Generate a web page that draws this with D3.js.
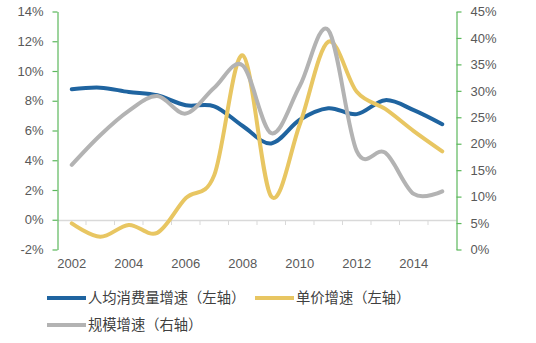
<!DOCTYPE html>
<html><head><meta charset="utf-8">
<script src="https://cdn.jsdelivr.net/npm/d3@7"></script>
<style>
html,body{margin:0;padding:0;background:#fff;}
svg{display:block;}
</style></head>
<body>
<svg id="c" width="536" height="343"></svg>
<script>
const years = [2002,2003,2004,2005,2006,2007,2008,2009,2010,2011,2012,2013,2014,2015];
const volumeGrowth = [8.77,8.88,8.59,8.37,7.7,7.63,6.3,5.13,6.72,7.5,7.1,8.04,7.37,6.42];
const priceGrowth = [-0.25,-1.15,-0.35,-0.88,1.45,3.0,11.05,1.56,6.4,11.96,8.6,7.45,5.96,4.6];
const scaleGrowth = [16.0,21.6,26.2,29.0,25.7,30.6,34.8,22.0,30.9,41.5,18.6,18.3,10.5,11.0];
const leftTicks = [-2,0,2,4,6,8,10,12,14];
const rightTicks = [0,5,10,15,20,25,30,35,40,45];
const xLabels = [2002,2004,2006,2008,2010,2012,2014];
const seriesNames = ["人均消费量增速（左轴）","单价增速（左轴）","规模增速（右轴）"];
const colors = ["#1f64a0","#e8c662","#b3b3b3"];

const svg = d3.select("#c");
const x = d3.scaleBand().domain(years).range([57.5, 456.5]).padding(0);
const yL = d3.scaleLinear().domain([-2,14]).range([249.5, 11.5]);
const yR = d3.scaleLinear().domain([0,45]).range([249.5, 11.5]);
const axisGreen = "#5cb85c";
const textCol = "#595959";
const fontNum = "'Liberation Sans', Arial, sans-serif";

// x-axis baseline at 0%
const gx = svg.append("g");
gx.append("line").attr("x1",57.5).attr("x2",456.5).attr("y1",Math.round(yL(0))+0.5).attr("y2",Math.round(yL(0))+0.5)
  .attr("stroke","#d9d9d9").attr("stroke-width",1.5);
const bounds = years.slice(1).map(y => x(y));
gx.selectAll("line.t").data(bounds).enter().append("line")
  .attr("x1",d=>d).attr("x2",d=>d).attr("y1",Math.round(yL(0))).attr("y2",Math.round(yL(0))+5)
  .attr("stroke","#d9d9d9").attr("stroke-width",1);

// x labels
const xa = d3.axisBottom(x).tickValues(xLabels).tickSize(0).tickPadding(0);
const gxl = svg.append("g").attr("transform","translate(0,259)").call(xa);
gxl.select(".domain").remove();
gxl.selectAll("text").attr("fill",textCol).attr("font-size",13).attr("font-family",fontNum).attr("dy","0.71em");

// left axis
const la = d3.axisLeft(yL).tickValues(leftTicks).tickSize(5).tickSizeOuter(0).tickPadding(9).tickFormat(d=>d+"%");
const gl = svg.append("g").attr("transform","translate(57.5,0)").call(la);
gl.select(".domain").attr("stroke",axisGreen).attr("stroke-width",1.2);
gl.selectAll(".tick line").attr("stroke",axisGreen).attr("stroke-width",1.2);
gl.selectAll("text").attr("fill",textCol).attr("font-size",13).attr("font-family",fontNum);

// right axis
const ra = d3.axisRight(yR).tickValues(rightTicks).tickSize(5).tickSizeOuter(0).tickPadding(9).tickFormat(d=>d+"%");
const gr = svg.append("g").attr("transform","translate(456.5,0)").call(ra);
gr.select(".domain").attr("stroke",axisGreen).attr("stroke-width",1.2);
gr.selectAll(".tick line").attr("stroke",axisGreen).attr("stroke-width",1.2);
gr.selectAll("text").attr("fill",textCol).attr("font-size",13).attr("font-family",fontNum);

// lines
const cx = d => x(d) + x.bandwidth()/2;
const curve = d3.curveCardinal.tension(0);
const lineL = d3.line().x((d,i)=>cx(years[i])).y(d=>yL(d)).curve(curve);
const lineR = d3.line().x((d,i)=>cx(years[i])).y(d=>yR(d)).curve(curve);
svg.append("path").attr("d",lineL(volumeGrowth)).attr("fill","none").attr("stroke",colors[0]).attr("stroke-width",4).attr("stroke-linecap","round");
svg.append("path").attr("d",lineL(priceGrowth)).attr("fill","none").attr("stroke",colors[1]).attr("stroke-width",4).attr("stroke-linecap","round");
svg.append("path").attr("d",lineR(scaleGrowth)).attr("fill","none").attr("stroke",colors[2]).attr("stroke-width",4).attr("stroke-linecap","round");

// legend
const legendPos = [[47,298],[255,298],[47,325]];
const lg = svg.append("g");
seriesNames.forEach((n,i)=>{
  const [lx,ly] = legendPos[i];
  lg.append("line").attr("x1",lx).attr("x2",lx+39).attr("y1",ly).attr("y2",ly)
    .attr("stroke",colors[i]).attr("stroke-width",4);
  lg.append("text").attr("x",lx+41).attr("y",ly).attr("dy","0.35em")
    .attr("font-family","'Noto Sans CJK SC', sans-serif").attr("font-size",14.3)
    .attr("fill","#404040").text(n);
});
</script>
</body></html>
